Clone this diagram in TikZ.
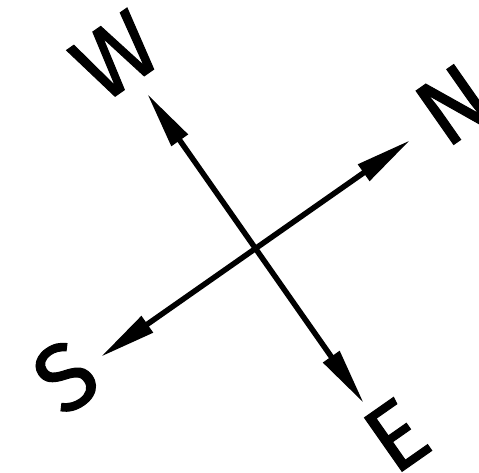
\documentclass[tikz,border=0pt]{standalone}
\usepackage{fontspec}
\newfontfamily\compassfont{Fira Sans}[FakeBold=1.1]
\usetikzlibrary{arrows.meta,calc}

\begin{document}
\begin{tikzpicture}[
    x=1pt, y=1pt,
    dir/.style={-{Triangle[length=57pt,width=19pt]}, line width=5.5pt},
    lbl/.style={rotate=35, inner sep=0pt, font=\compassfont\fontsize{95}{95}\selectfont}
]
\useasboundingbox (0,0) rectangle (479,472);
\coordinate (o) at (255.5,223.5);
\coordinate (tn) at ($(o)+(35:189)$);
\coordinate (tw) at ($(o)+(125:189)$);
\coordinate (ts) at ($(o)+(215:189)$);
\coordinate (te) at ($(o)+(305:189)$);

\draw[dir] (o) -- (tn);
\draw[dir] (o) -- (tw);
\draw[dir] (o) -- (ts);
\draw[dir] (o) -- (te);

\node[lbl] (ln) at ($(o)+(36:245)$) {N};
\node[lbl] (lw) at ($(o)+(126:238)$) {W};
\node[lbl] (ls) at ($(o)+(214:229)$) {S};
\node[lbl] (le) at ($(o)+(307:234)$) {E};
\end{tikzpicture}
\end{document}
